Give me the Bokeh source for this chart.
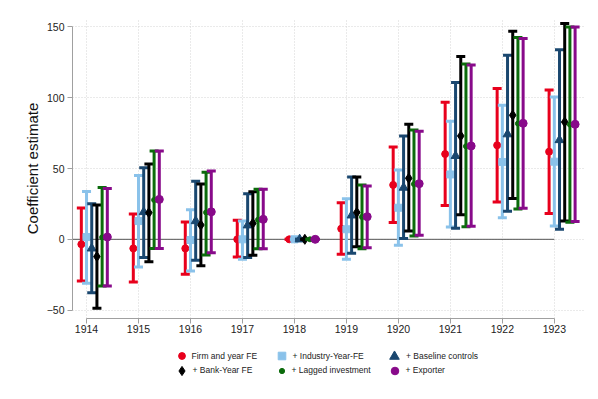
from bokeh.plotting import figure
from bokeh.layouts import column
from bokeh.models import Range1d, ColumnDataSource, Legend, LegendItem, FixedTicker
from bokeh.embed import file_html
from bokeh.resources import INLINE

years = [1914, 1915, 1916, 1917, 1918, 1919, 1920, 1921, 1922, 1923]

firm_year_fe = [-3.5, -6.4, -6.4, 0.0, 0.0, 7.5, 38.4, 60.2, 66.4, 61.9]
firm_year_fe_lo = [-29.4, -30.1, -24.7, -12.5, 0.0, -10.6, 11.8, 23.8, 26.4, 18.3]
firm_year_fe_hi = [22.1, 17.9, 12.2, 13.4, 0.0, 25.9, 65.2, 96.8, 106.4, 105.4]

industry_year_fe = [1.6, 12.9, -0.5, 0.0, 0.0, 7.1, 22.3, 45.8, 54.6, 54.8]
industry_year_fe_lo = [-31.1, -19.5, -22.4, -14.1, 0.0, -14.1, -4.2, 8.7, 15.3, 9.4]
industry_year_fe_hi = [33.7, 45.0, 20.9, 12.9, 0.0, 28.7, 49.0, 83.4, 94.6, 100.5]

baseline_controls = [-6.4, 19.3, 12.9, 9.9, 0.0, 16.9, 36.5, 58.9, 74.2, 70.1]
baseline_controls_lo = [-37.7, -12.9, -14.8, -12.9, 0.0, -9.9, 0.5, 7.8, 19.8, 7.1]
baseline_controls_hi = [25.2, 50.6, 41.0, 32.2, 0.0, 44.0, 72.9, 110.8, 129.9, 133.9]

bank_year_fe = [-12.2, 18.8, 10.1, 11.3, 0.0, 19.0, 43.1, 73.0, 87.6, 82.8]
bank_year_fe_lo = [-48.7, -15.8, -18.6, -11.3, 0.0, -5.2, 5.9, 17.4, 28.9, 12.9]
bank_year_fe_hi = [24.2, 53.2, 39.0, 33.6, 0.0, 44.0, 81.2, 129.0, 146.9, 152.3]

lagged_investment = [1.4, 27.8, 19.0, 13.8, 0.0, 15.8, 39.0, 65.7, 81.7, 81.0]
lagged_investment_lo = [-33.0, -6.4, -11.1, -6.6, 0.0, -6.6, 2.3, 8.9, 21.4, 12.0]
lagged_investment_hi = [36.5, 62.4, 47.4, 35.3, 0.0, 38.4, 77.2, 123.8, 142.4, 149.9]

exporter = [1.6, 28.2, 19.4, 14.1, 0.0, 16.0, 39.3, 65.9, 81.9, 81.2]
exporter_lo = [-33.0, -6.4, -9.4, -6.6, 0.0, -5.9, 2.8, 9.2, 21.9, 12.5]
exporter_hi = [35.8, 62.4, 48.3, 35.3, 0.0, 37.7, 76.3, 123.0, 141.7, 149.9]

labels = ["Firm and year FE", "+ Industry-Year-FE", "+ Baseline controls",
          "+ Bank-Year FE", "+ Lagged investment", "+ Exporter"]
y_ticks = [-50, 0, 50, 100, 150]

# (values, lower, upper, x offset, colour, marker, marker size, legend swatch box)
series = [
    (firm_year_fe, firm_year_fe_lo, firm_year_fe_hi, -0.1, "#e8001c", "circle", 7, 17),
    (industry_year_fe, industry_year_fe_lo, industry_year_fe_hi, 0.0, "#8ac2ea", "square", 7, 19),
    (baseline_controls, baseline_controls_lo, baseline_controls_hi, 0.1, "#1a476f", "triangle", 9, 24),
    (bank_year_fe, bank_year_fe_lo, bank_year_fe_hi, 0.2, "#000000", "diamond", 10, 23),
    (lagged_investment, lagged_investment_lo, lagged_investment_hi, 0.3, "#0b6b0b", "circle", 5, 13),
    (exporter, exporter_lo, exporter_hi, 0.4, "#880a8a", "circle", 8, 19),
]

FONT = "Liberation Sans"

p = figure(width=590, height=345, output_backend="svg", toolbar_location=None,
           x_range=Range1d(1913.73, 1923.6), y_range=Range1d(-55.9, 155.9),
           min_border_left=72, min_border_right=5, min_border_top=18, min_border_bottom=27)
p.outline_line_color = None
p.background_fill_color = "white"

# axes
for ax in (p.xaxis, p.yaxis):
    ax.axis_line_color = "#a0a0a0"
    ax.major_tick_line_color = "#a0a0a0"
    ax.major_tick_out = 5
    ax.major_tick_in = 0
    ax.minor_tick_line_color = None
    ax.major_label_text_font = FONT
    ax.major_label_text_font_size = "10.5px"
    ax.major_label_text_color = "#222222"
p.xaxis.major_label_standoff = 1
p.yaxis.major_label_standoff = 3
p.xaxis.ticker = FixedTicker(ticks=years)
p.yaxis.ticker = FixedTicker(ticks=y_ticks)
p.xaxis.bounds = (years[0], years[-1])
p.yaxis.bounds = (y_ticks[0], y_ticks[-1])
p.yaxis.major_label_orientation = "horizontal"
p.yaxis.axis_label = "Coefficient estimate"
p.yaxis.axis_label_text_font = FONT
p.yaxis.axis_label_text_font_size = "15px"
p.yaxis.axis_label_text_font_style = "normal"
p.yaxis.axis_label_text_color = "#111111"
p.yaxis.axis_label_standoff = 3

# grid
p.xgrid.ticker = FixedTicker(ticks=years)
p.ygrid.ticker = FixedTicker(ticks=y_ticks)
for g in (p.xgrid, p.ygrid):
    g.grid_line_color = "#d4d4d4"
    g.grid_line_dash = "1 2"
    g.grid_line_width = 1

# zero reference line
p.segment(x0=[p.x_range.start], y0=[0], x1=[years[-1]], y1=[0], line_color="#555555", line_width=1)

# legend strip (separate figure below, frame aligned with the main plot)
P2H = 45
p2 = figure(width=590, height=P2H, output_backend="svg", toolbar_location=None,
            x_range=Range1d(0, 1), y_range=Range1d(0, 1),
            min_border_left=0, min_border_right=0, min_border_top=0, min_border_bottom=0)
p2.axis.visible = False
p2.grid.visible = False
p2.outline_line_color = None

# legend swatch centres in screen px relative to the strip's frame (x from left, y from top)
col_cx = [109, 209, 322]
row_cy = [10.7, 25.0]
label_gap = 11

for i, ((vals, lo, hi, off, color, marker, size, box), lab) in enumerate(zip(series, labels)):
    xs = [y + off for y in years]
    src = ColumnDataSource(dict(x=xs, y=vals, lo=lo, hi=hi))
    p.segment(x0="x", y0="lo", x1="x", y1="hi", source=src, line_color=color, line_width=3)
    p.scatter(x="x", y="hi", source=src, marker="dash", size=9, line_color=color, line_width=3)
    p.scatter(x="x", y="lo", source=src, marker="dash", size=9, line_color=color, line_width=3)
    p.scatter(x="x", y="y", source=src, marker=marker, size=size,
              fill_color=color, line_color=color)
    # same series drawn in the legend strip, whose range excludes the data: only the legend swatch shows
    r = p2.scatter(x="x", y="y", source=src, marker=marker, size=size,
                   fill_color=color, line_color=color)
    cx = col_cx[i % 3]
    cy = row_cy[i // 3]
    lg = Legend(items=[LegendItem(label=lab, renderers=[r])], orientation="vertical",
                location=(cx - box / 2, P2H - cy - box / 2),
                label_text_font=FONT, label_text_font_size="8.5px", label_text_color="#222222",
                glyph_width=box, glyph_height=box, label_height=box,
                label_standoff=int(round(label_gap - box / 2)),
                spacing=0, padding=0, margin=0, border_line_color=None,
                background_fill_alpha=0)
    p2.add_layout(lg)

open("out.html", "w").write(file_html(column(p, p2), INLINE))
